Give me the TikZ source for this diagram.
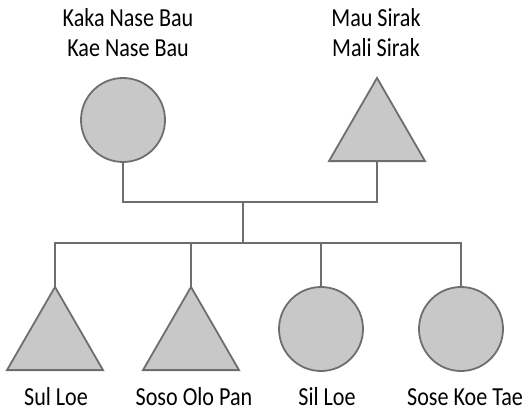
\documentclass[tikz,border=0pt]{standalone}
\usepackage{fontspec}
\setmainfont{Carlito}[FakeStretch=0.85]
\usetikzlibrary{shapes.geometric}
\definecolor{symfill}{HTML}{C8C8C8}
\definecolor{symline}{HTML}{6E6E6E}
\begin{document}
\begin{tikzpicture}[x=1pt,y=-1pt,
  female/.style={circle,draw=symline,fill=symfill,line width=1.8pt,minimum size=84pt,inner sep=0pt,outer sep=0pt},
  male/.style={regular polygon,regular polygon sides=3,draw=symline,fill=symfill,line width=1.8pt,minimum size=110.9pt,inner sep=0pt,outer sep=0pt},
  link/.style={draw=symline,line width=1.8pt},
  personlabel/.style={font=\fontsize{26}{30}\selectfont,text=black,inner sep=0pt},
  parentlabel/.style={personlabel,align=center}]
\useasboundingbox (0,0) rectangle (529,411);
% parents
\node[female] (mother) at (123,120) {};
\node[male] (father) at (377,133.4) {};
% children
\node[male] (sul) at (55,342.4) {};
\node[male] (soso) at (191,342.4) {};
\node[female] (sil) at (321,329) {};
\node[female] (sose) at (461,329) {};
% marriage and sibling lines
\coordinate (union) at (243,202);
\coordinate (sibs) at (243,243);
\draw[link] (mother.south) |- (union) -| (father.side 2);
\draw[link] (union) -- (sibs);
\draw[link] (sibs) -| (sul.corner 1);
\draw[link] (sibs) -| (soso.corner 1);
\draw[link] (sibs) -| (sil.north);
\draw[link] (sibs) -| (sose.north);
% names (base anchor = baseline of the last line)
\node[parentlabel,anchor=base] (mlab) at (128,57) {Kaka Nase Bau\\Kae Nase Bau};
\node[parentlabel,anchor=base] (flab) at (376,57) {Mau Sirak\\Mali Sirak};
\node[personlabel,anchor=base] (l1) at (56,405) {Sul Loe};
\node[personlabel,anchor=base] (l2) at (194,405) {Soso Olo Pan};
\node[personlabel,anchor=base] (l3) at (327,405) {Sil Loe};
\node[personlabel,anchor=base] (l4) at (465,405) {Sose Koe Tae};
\end{tikzpicture}
\end{document}
